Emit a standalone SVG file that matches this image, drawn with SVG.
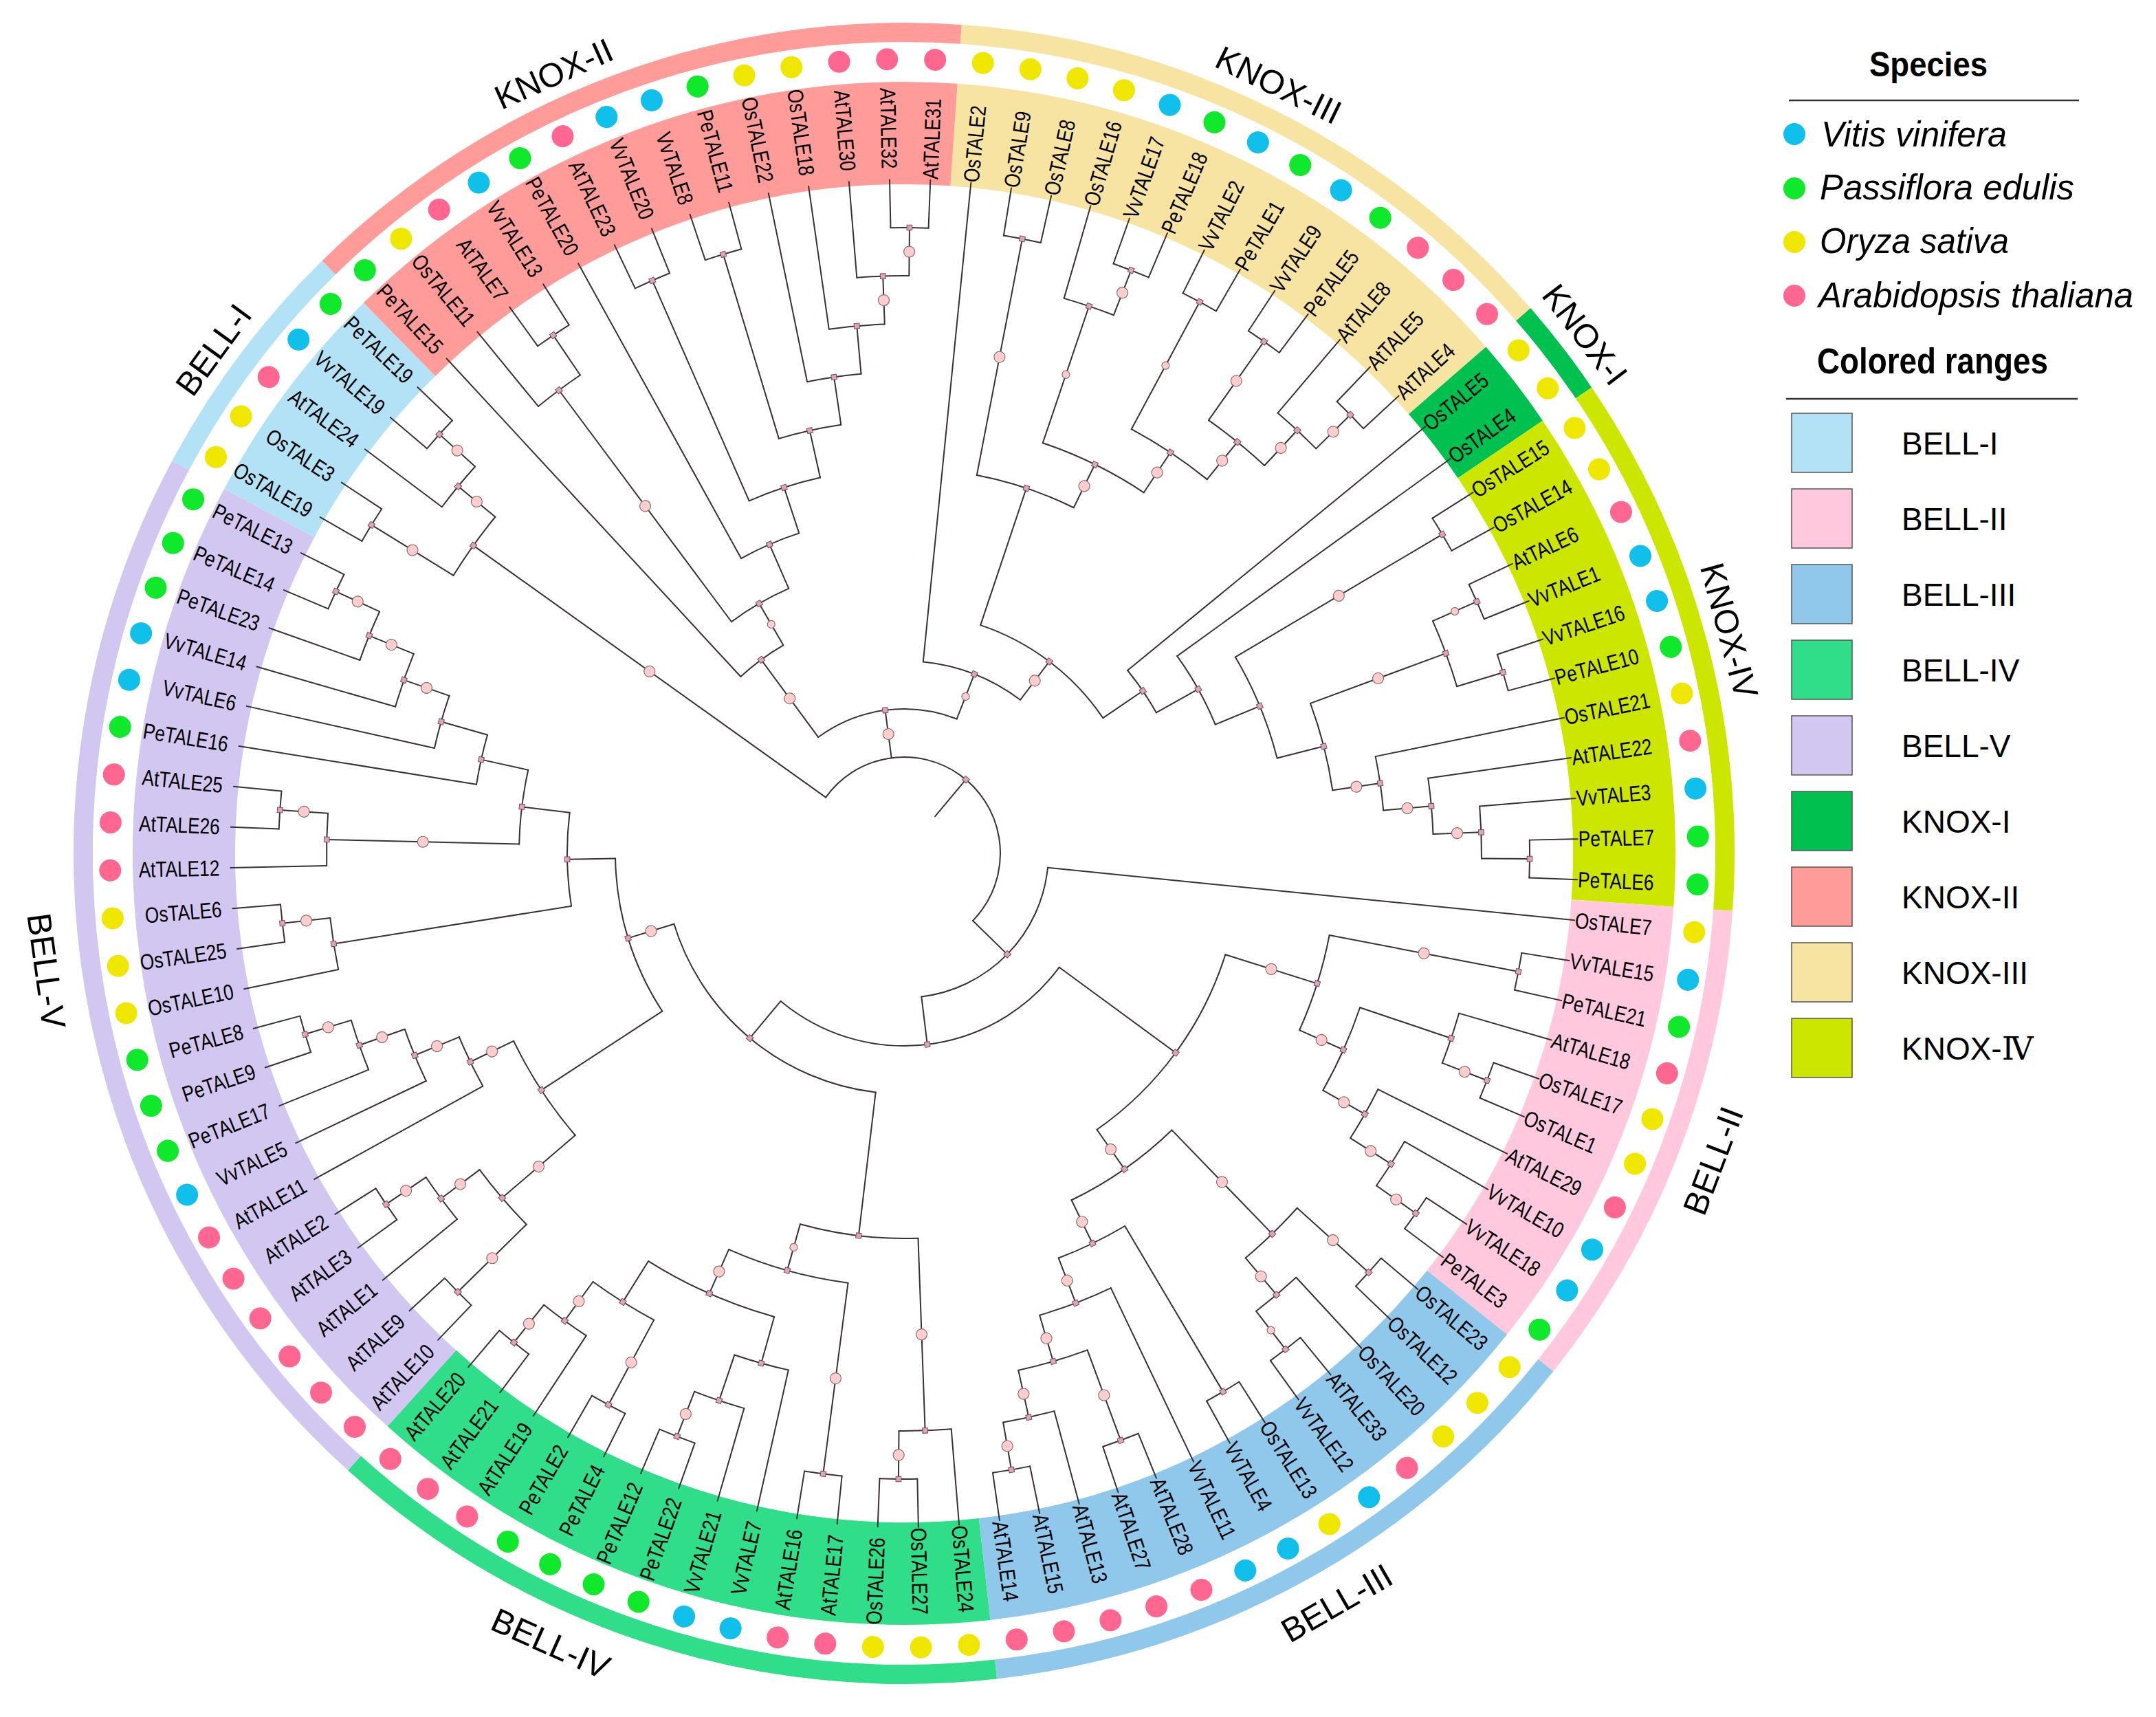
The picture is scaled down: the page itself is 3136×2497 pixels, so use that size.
<svg xmlns="http://www.w3.org/2000/svg" width="3136" height="2497" viewBox="0 0 3136 2497">
<style>
text{font-family:"Liberation Sans",Arial,Helvetica,sans-serif;fill:#000}
.r{font-size:32px;transform:translate(981px,11px) scale(.82,1)}
.l{font-size:32px;text-anchor:end;transform:translate(-996px,11px) scale(.82,1)}
.cl{font-size:49px;text-anchor:middle}
.vv{fill:#10bfea}.pe{fill:#10e82c}.os{fill:#efe700}.at{fill:#ff6791}
.band{fill:none;stroke-width:149}
.ring{fill:none;stroke-width:28}
#tree path,#tree circle{fill:none;stroke:#3a3232;stroke-width:2;stroke-linecap:round}
.lg{font-size:46px}
.sp{font-style:italic;font-size:52px}
</style>
<defs>
<rect id="sq" x="-3.8" y="-3.8" width="7.6" height="7.6" fill="#e3a1bd" stroke="#6b525d" stroke-width="1"/>
<circle id="bb" r="8" fill="#ffcdcd" stroke="#8c6e6e" stroke-width="1.2"/>
<circle id="bm" r="5.5" fill="#ffcdcd" stroke="#8c6e6e" stroke-width="1.2"/>
</defs>
<rect width="3136" height="2497" fill="#fff"/>
<g transform="translate(1315 1241)">
<g id="clade-KNOX-III"><circle class="band" r="1047.5" pathLength="360" stroke-dasharray="45 360" transform="rotate(-86.03)" stroke="#f8e4a2"/><circle class="ring" r="1194" pathLength="360" stroke-dasharray="45 360" transform="rotate(-86.03)" stroke="#f8e4a2"/><text class="cl" transform="rotate(-64) translate(1226 0) rotate(90)">KNOX-III</text></g>
<g id="clade-KNOX-I"><circle class="band" r="1047.5" pathLength="360" stroke-dasharray="6.92 360" transform="rotate(-41.03)" stroke="#00c050"/><circle class="ring" r="1194" pathLength="360" stroke-dasharray="6.92 360" transform="rotate(-41.03)" stroke="#00c050"/><text class="cl" transform="rotate(-37.3) translate(1228 0) rotate(90)">KNOX-I</text></g>
<g id="clade-KNOX-IV"><circle class="band" r="1047.5" pathLength="360" stroke-dasharray="38.08 360" transform="rotate(-34.11)" stroke="#cce600"/><circle class="ring" r="1194" pathLength="360" stroke-dasharray="38.08 360" transform="rotate(-34.11)" stroke="#cce600"/><text class="cl" transform="rotate(-15.1) translate(1226 0) rotate(90)">KNOX-IV</text></g>
<g id="clade-BELL-II"><circle class="band" r="1047.5" pathLength="360" stroke-dasharray="34.62 360" transform="rotate(3.97)" stroke="#ffc8dd"/><circle class="ring" r="1194" pathLength="360" stroke-dasharray="34.62 360" transform="rotate(3.97)" stroke="#ffc8dd"/><text class="cl" transform="rotate(20.8) translate(1276 0) rotate(-90)">BELL-II</text></g>
<g id="clade-BELL-III"><circle class="band" r="1047.5" pathLength="360" stroke-dasharray="45 360" transform="rotate(38.58)" stroke="#8fc8eb"/><circle class="ring" r="1194" pathLength="360" stroke-dasharray="45 360" transform="rotate(38.58)" stroke="#8fc8eb"/><text class="cl" transform="rotate(60) translate(1276 0) rotate(-90)">BELL-III</text></g>
<g id="clade-BELL-IV"><circle class="band" r="1047.5" pathLength="360" stroke-dasharray="48.46 360" transform="rotate(83.58)" stroke="#30dd88"/><circle class="ring" r="1194" pathLength="360" stroke-dasharray="48.46 360" transform="rotate(83.58)" stroke="#30dd88"/><text class="cl" transform="rotate(114.1) translate(1276 0) rotate(-90)">BELL-IV</text></g>
<g id="clade-BELL-V"><circle class="band" r="1047.5" pathLength="360" stroke-dasharray="76.16 360" transform="rotate(132.04)" stroke="#d2c7f1"/><circle class="ring" r="1194" pathLength="360" stroke-dasharray="76.16 360" transform="rotate(132.04)" stroke="#d2c7f1"/><text class="cl" transform="rotate(172.2) translate(1276 0) rotate(-90)">BELL-V</text></g>
<g id="clade-BELL-I"><circle class="band" r="1047.5" pathLength="360" stroke-dasharray="17.31 360" transform="rotate(208.2)" stroke="#b3e2f6"/><circle class="ring" r="1194" pathLength="360" stroke-dasharray="17.31 360" transform="rotate(208.2)" stroke="#b3e2f6"/><text class="cl" transform="rotate(-143.9) translate(1226 0) rotate(90)">BELL-I</text></g>
<g id="clade-KNOX-II"><circle class="band" r="1047.5" pathLength="360" stroke-dasharray="48.46 360" transform="rotate(225.51)" stroke="#ff9c9a"/><circle class="ring" r="1194" pathLength="360" stroke-dasharray="48.46 360" transform="rotate(225.51)" stroke="#ff9c9a"/><text class="cl" transform="rotate(-114.2) translate(1226 0) rotate(90)">KNOX-II</text></g>

<g id="tree">
<path d="M70 0H140" transform="rotate(-50.03)"/>
<circle r="140" pathLength="360" stroke-dasharray="188.83 360" transform="rotate(-144.45)"/>
<path d="M140 0H770" transform="rotate(-144.45)"/>
<circle r="770" pathLength="360" stroke-dasharray="7.79 360" transform="rotate(-148.34)"/>
<path d="M770 0H910" transform="rotate(-148.34)"/>
<circle r="910" pathLength="360" stroke-dasharray="3.46 360" transform="rotate(-150.07)"/>
<path d="M910 0H980" transform="rotate(-150.07)"/>
<path d="M910 0H980" transform="rotate(-146.61)"/>
<path d="M770 0H840" transform="rotate(-140.55)"/>
<circle r="840" pathLength="360" stroke-dasharray="5.19 360" transform="rotate(-143.15)"/>
<path d="M840 0H980" transform="rotate(-143.15)"/>
<path d="M840 0H910" transform="rotate(-137.96)"/>
<circle r="910" pathLength="360" stroke-dasharray="3.46 360" transform="rotate(-139.69)"/>
<path d="M910 0H980" transform="rotate(-139.69)"/>
<path d="M910 0H980" transform="rotate(-136.23)"/>
<path d="M140 0H210" transform="rotate(-97.51)"/>
<circle r="210" pathLength="360" stroke-dasharray="57.86 360" transform="rotate(-126.44)"/>
<path d="M210 0H350" transform="rotate(-126.44)"/>
<circle r="350" pathLength="360" stroke-dasharray="12.64 360" transform="rotate(-132.76)"/>
<path d="M350 0H980" transform="rotate(-132.76)"/>
<path d="M350 0H420" transform="rotate(-120.12)"/>
<circle r="420" pathLength="360" stroke-dasharray="13.16 360" transform="rotate(-126.7)"/>
<path d="M420 0H840" transform="rotate(-126.7)"/>
<circle r="840" pathLength="360" stroke-dasharray="5.19 360" transform="rotate(-129.3)"/>
<path d="M840 0H980" transform="rotate(-129.3)"/>
<path d="M840 0H910" transform="rotate(-124.11)"/>
<circle r="910" pathLength="360" stroke-dasharray="3.46 360" transform="rotate(-125.84)"/>
<path d="M910 0H980" transform="rotate(-125.84)"/>
<path d="M910 0H980" transform="rotate(-122.38)"/>
<path d="M420 0H490" transform="rotate(-113.54)"/>
<circle r="490" pathLength="360" stroke-dasharray="10.76 360" transform="rotate(-118.92)"/>
<path d="M490 0H980" transform="rotate(-118.92)"/>
<path d="M490 0H560" transform="rotate(-108.16)"/>
<circle r="560" pathLength="360" stroke-dasharray="11.15 360" transform="rotate(-113.73)"/>
<path d="M560 0H910" transform="rotate(-113.73)"/>
<circle r="910" pathLength="360" stroke-dasharray="3.46 360" transform="rotate(-115.46)"/>
<path d="M910 0H980" transform="rotate(-115.46)"/>
<path d="M910 0H980" transform="rotate(-112)"/>
<path d="M560 0H630" transform="rotate(-102.58)"/>
<circle r="630" pathLength="360" stroke-dasharray="8.43 360" transform="rotate(-106.8)"/>
<path d="M630 0H910" transform="rotate(-106.8)"/>
<circle r="910" pathLength="360" stroke-dasharray="3.46 360" transform="rotate(-108.53)"/>
<path d="M910 0H980" transform="rotate(-108.53)"/>
<path d="M910 0H980" transform="rotate(-105.07)"/>
<path d="M630 0H700" transform="rotate(-98.37)"/>
<circle r="700" pathLength="360" stroke-dasharray="6.49 360" transform="rotate(-101.61)"/>
<path d="M700 0H980" transform="rotate(-101.61)"/>
<path d="M700 0H770" transform="rotate(-95.12)"/>
<circle r="770" pathLength="360" stroke-dasharray="6.05 360" transform="rotate(-98.15)"/>
<path d="M770 0H980" transform="rotate(-98.15)"/>
<path d="M770 0H840" transform="rotate(-92.1)"/>
<circle r="840" pathLength="360" stroke-dasharray="5.19 360" transform="rotate(-94.69)"/>
<path d="M840 0H980" transform="rotate(-94.69)"/>
<path d="M840 0H910" transform="rotate(-89.5)"/>
<circle r="910" pathLength="360" stroke-dasharray="3.47 360" transform="rotate(-91.23)"/>
<path d="M910 0H980" transform="rotate(-91.23)"/>
<path d="M910 0H980" transform="rotate(-87.76)"/>
<path d="M210 0H280" transform="rotate(-68.58)"/>
<circle r="280" pathLength="360" stroke-dasharray="31.44 360" transform="rotate(-84.3)"/>
<path d="M280 0H980" transform="rotate(-84.3)"/>
<path d="M280 0H350" transform="rotate(-52.86)"/>
<circle r="350" pathLength="360" stroke-dasharray="37.25 360" transform="rotate(-71.48)"/>
<path d="M350 0H560" transform="rotate(-71.48)"/>
<circle r="560" pathLength="360" stroke-dasharray="15.25 360" transform="rotate(-79.11)"/>
<path d="M560 0H910" transform="rotate(-79.11)"/>
<circle r="910" pathLength="360" stroke-dasharray="3.46 360" transform="rotate(-80.84)"/>
<path d="M910 0H980" transform="rotate(-80.84)"/>
<path d="M910 0H980" transform="rotate(-77.38)"/>
<path d="M560 0H630" transform="rotate(-63.86)"/>
<circle r="630" pathLength="360" stroke-dasharray="14.93 360" transform="rotate(-71.32)"/>
<path d="M630 0H840" transform="rotate(-71.32)"/>
<circle r="840" pathLength="360" stroke-dasharray="5.2 360" transform="rotate(-73.92)"/>
<path d="M840 0H980" transform="rotate(-73.92)"/>
<path d="M840 0H910" transform="rotate(-68.72)"/>
<circle r="910" pathLength="360" stroke-dasharray="3.46 360" transform="rotate(-70.45)"/>
<path d="M910 0H980" transform="rotate(-70.45)"/>
<path d="M910 0H980" transform="rotate(-66.99)"/>
<path d="M630 0H700" transform="rotate(-56.39)"/>
<circle r="700" pathLength="360" stroke-dasharray="10.82 360" transform="rotate(-61.8)"/>
<path d="M700 0H910" transform="rotate(-61.8)"/>
<circle r="910" pathLength="360" stroke-dasharray="3.46 360" transform="rotate(-63.53)"/>
<path d="M910 0H980" transform="rotate(-63.53)"/>
<path d="M910 0H980" transform="rotate(-60.07)"/>
<path d="M700 0H770" transform="rotate(-50.98)"/>
<circle r="770" pathLength="360" stroke-dasharray="7.79 360" transform="rotate(-54.88)"/>
<path d="M770 0H910" transform="rotate(-54.88)"/>
<circle r="910" pathLength="360" stroke-dasharray="3.46 360" transform="rotate(-56.61)"/>
<path d="M910 0H980" transform="rotate(-56.61)"/>
<path d="M910 0H980" transform="rotate(-53.15)"/>
<path d="M770 0H840" transform="rotate(-47.09)"/>
<circle r="840" pathLength="360" stroke-dasharray="5.19 360" transform="rotate(-49.68)"/>
<path d="M840 0H980" transform="rotate(-49.68)"/>
<path d="M840 0H910" transform="rotate(-44.49)"/>
<circle r="910" pathLength="360" stroke-dasharray="3.46 360" transform="rotate(-46.22)"/>
<path d="M910 0H980" transform="rotate(-46.22)"/>
<path d="M910 0H980" transform="rotate(-42.76)"/>
<path d="M350 0H420" transform="rotate(-34.23)"/>
<circle r="420" pathLength="360" stroke-dasharray="10.14 360" transform="rotate(-39.3)"/>
<path d="M420 0H980" transform="rotate(-39.3)"/>
<path d="M420 0H490" transform="rotate(-29.16)"/>
<circle r="490" pathLength="360" stroke-dasharray="13.36 360" transform="rotate(-35.84)"/>
<path d="M490 0H980" transform="rotate(-35.84)"/>
<path d="M490 0H560" transform="rotate(-22.48)"/>
<circle r="560" pathLength="360" stroke-dasharray="16.34 360" transform="rotate(-30.65)"/>
<path d="M560 0H910" transform="rotate(-30.65)"/>
<circle r="910" pathLength="360" stroke-dasharray="3.46 360" transform="rotate(-32.38)"/>
<path d="M910 0H980" transform="rotate(-32.38)"/>
<path d="M910 0H980" transform="rotate(-28.92)"/>
<path d="M560 0H630" transform="rotate(-14.31)"/>
<circle r="630" pathLength="360" stroke-dasharray="11.89 360" transform="rotate(-20.26)"/>
<path d="M630 0H840" transform="rotate(-20.26)"/>
<circle r="840" pathLength="360" stroke-dasharray="6.92 360" transform="rotate(-23.72)"/>
<path d="M840 0H910" transform="rotate(-23.72)"/>
<circle r="910" pathLength="360" stroke-dasharray="3.46 360" transform="rotate(-25.45)"/>
<path d="M910 0H980" transform="rotate(-25.45)"/>
<path d="M910 0H980" transform="rotate(-21.99)"/>
<path d="M840 0H910" transform="rotate(-16.8)"/>
<circle r="910" pathLength="360" stroke-dasharray="3.46 360" transform="rotate(-18.53)"/>
<path d="M910 0H980" transform="rotate(-18.53)"/>
<path d="M910 0H980" transform="rotate(-15.07)"/>
<path d="M630 0H700" transform="rotate(-8.37)"/>
<circle r="700" pathLength="360" stroke-dasharray="6.49 360" transform="rotate(-11.61)"/>
<path d="M700 0H980" transform="rotate(-11.61)"/>
<path d="M700 0H770" transform="rotate(-5.12)"/>
<circle r="770" pathLength="360" stroke-dasharray="6.06 360" transform="rotate(-8.15)"/>
<path d="M770 0H980" transform="rotate(-8.15)"/>
<path d="M770 0H840" transform="rotate(-2.09)"/>
<circle r="840" pathLength="360" stroke-dasharray="5.19 360" transform="rotate(-4.68)"/>
<path d="M840 0H980" transform="rotate(-4.68)"/>
<path d="M840 0H910" transform="rotate(0.51)"/>
<circle r="910" pathLength="360" stroke-dasharray="3.46 360" transform="rotate(-1.22)"/>
<path d="M910 0H980" transform="rotate(-1.22)"/>
<path d="M910 0H980" transform="rotate(2.24)"/>
<path d="M140 0H210" transform="rotate(44.38)"/>
<circle r="210" pathLength="360" stroke-dasharray="77.37 360" transform="rotate(5.7)"/>
<path d="M210 0H980" transform="rotate(5.7)"/>
<path d="M210 0H280" transform="rotate(83.07)"/>
<circle r="280" pathLength="360" stroke-dasharray="93.57 360" transform="rotate(36.28)"/>
<path d="M280 0H490" transform="rotate(36.28)"/>
<circle r="490" pathLength="360" stroke-dasharray="37.59 360" transform="rotate(17.49)"/>
<path d="M490 0H630" transform="rotate(17.49)"/>
<circle r="630" pathLength="360" stroke-dasharray="13.2 360" transform="rotate(10.89)"/>
<path d="M630 0H910" transform="rotate(10.89)"/>
<circle r="910" pathLength="360" stroke-dasharray="3.46 360" transform="rotate(9.16)"/>
<path d="M910 0H980" transform="rotate(9.16)"/>
<path d="M910 0H980" transform="rotate(12.62)"/>
<path d="M630 0H700" transform="rotate(24.09)"/>
<circle r="700" pathLength="360" stroke-dasharray="10.82 360" transform="rotate(18.68)"/>
<path d="M700 0H840" transform="rotate(18.68)"/>
<circle r="840" pathLength="360" stroke-dasharray="5.2 360" transform="rotate(16.08)"/>
<path d="M840 0H980" transform="rotate(16.08)"/>
<path d="M840 0H910" transform="rotate(21.28)"/>
<circle r="910" pathLength="360" stroke-dasharray="3.46 360" transform="rotate(19.55)"/>
<path d="M910 0H980" transform="rotate(19.55)"/>
<path d="M910 0H980" transform="rotate(23.01)"/>
<path d="M700 0H770" transform="rotate(29.5)"/>
<circle r="770" pathLength="360" stroke-dasharray="6.06 360" transform="rotate(26.47)"/>
<path d="M770 0H980" transform="rotate(26.47)"/>
<path d="M770 0H840" transform="rotate(32.53)"/>
<circle r="840" pathLength="360" stroke-dasharray="5.19 360" transform="rotate(29.93)"/>
<path d="M840 0H980" transform="rotate(29.93)"/>
<path d="M840 0H910" transform="rotate(35.12)"/>
<circle r="910" pathLength="360" stroke-dasharray="3.46 360" transform="rotate(33.39)"/>
<path d="M910 0H980" transform="rotate(33.39)"/>
<path d="M910 0H980" transform="rotate(36.85)"/>
<path d="M490 0H560" transform="rotate(55.08)"/>
<circle r="560" pathLength="360" stroke-dasharray="18.28 360" transform="rotate(45.94)"/>
<path d="M560 0H770" transform="rotate(45.94)"/>
<circle r="770" pathLength="360" stroke-dasharray="7.79 360" transform="rotate(42.05)"/>
<path d="M770 0H910" transform="rotate(42.05)"/>
<circle r="910" pathLength="360" stroke-dasharray="3.47 360" transform="rotate(40.31)"/>
<path d="M910 0H980" transform="rotate(40.31)"/>
<path d="M910 0H980" transform="rotate(43.78)"/>
<path d="M770 0H840" transform="rotate(49.84)"/>
<circle r="840" pathLength="360" stroke-dasharray="5.19 360" transform="rotate(47.24)"/>
<path d="M840 0H980" transform="rotate(47.24)"/>
<path d="M840 0H910" transform="rotate(52.43)"/>
<circle r="910" pathLength="360" stroke-dasharray="3.46 360" transform="rotate(50.7)"/>
<path d="M910 0H980" transform="rotate(50.7)"/>
<path d="M910 0H980" transform="rotate(54.16)"/>
<path d="M560 0H630" transform="rotate(64.22)"/>
<circle r="630" pathLength="360" stroke-dasharray="9.75 360" transform="rotate(59.35)"/>
<path d="M630 0H910" transform="rotate(59.35)"/>
<circle r="910" pathLength="360" stroke-dasharray="3.46 360" transform="rotate(57.62)"/>
<path d="M910 0H980" transform="rotate(57.62)"/>
<path d="M910 0H980" transform="rotate(61.08)"/>
<path d="M630 0H700" transform="rotate(69.1)"/>
<circle r="700" pathLength="360" stroke-dasharray="9.09 360" transform="rotate(64.55)"/>
<path d="M700 0H980" transform="rotate(64.55)"/>
<path d="M700 0H770" transform="rotate(73.64)"/>
<circle r="770" pathLength="360" stroke-dasharray="7.79 360" transform="rotate(69.74)"/>
<path d="M770 0H910" transform="rotate(69.74)"/>
<circle r="910" pathLength="360" stroke-dasharray="3.46 360" transform="rotate(68.01)"/>
<path d="M910 0H980" transform="rotate(68.01)"/>
<path d="M910 0H980" transform="rotate(71.47)"/>
<path d="M770 0H840" transform="rotate(77.53)"/>
<circle r="840" pathLength="360" stroke-dasharray="5.19 360" transform="rotate(74.93)"/>
<path d="M840 0H980" transform="rotate(74.93)"/>
<path d="M840 0H910" transform="rotate(80.12)"/>
<circle r="910" pathLength="360" stroke-dasharray="3.46 360" transform="rotate(78.39)"/>
<path d="M910 0H980" transform="rotate(78.39)"/>
<path d="M910 0H980" transform="rotate(81.85)"/>
<path d="M280 0H350" transform="rotate(129.85)"/>
<circle r="350" pathLength="360" stroke-dasharray="66.14 360" transform="rotate(96.78)"/>
<path d="M350 0H560" transform="rotate(96.78)"/>
<circle r="560" pathLength="360" stroke-dasharray="17.74 360" transform="rotate(87.91)"/>
<path d="M560 0H840" transform="rotate(87.91)"/>
<circle r="840" pathLength="360" stroke-dasharray="5.2 360" transform="rotate(85.31)"/>
<path d="M840 0H980" transform="rotate(85.31)"/>
<path d="M840 0H910" transform="rotate(90.51)"/>
<circle r="910" pathLength="360" stroke-dasharray="3.46 360" transform="rotate(88.78)"/>
<path d="M910 0H980" transform="rotate(88.78)"/>
<path d="M910 0H980" transform="rotate(92.24)"/>
<path d="M560 0H630" transform="rotate(105.65)"/>
<circle r="630" pathLength="360" stroke-dasharray="16.44 360" transform="rotate(97.43)"/>
<path d="M630 0H910" transform="rotate(97.43)"/>
<circle r="910" pathLength="360" stroke-dasharray="3.46 360" transform="rotate(95.7)"/>
<path d="M910 0H980" transform="rotate(95.7)"/>
<path d="M910 0H980" transform="rotate(99.16)"/>
<path d="M630 0H700" transform="rotate(113.87)"/>
<circle r="700" pathLength="360" stroke-dasharray="16.44 360" transform="rotate(105.65)"/>
<path d="M700 0H770" transform="rotate(105.65)"/>
<circle r="770" pathLength="360" stroke-dasharray="6.06 360" transform="rotate(102.62)"/>
<path d="M770 0H980" transform="rotate(102.62)"/>
<path d="M770 0H840" transform="rotate(108.68)"/>
<circle r="840" pathLength="360" stroke-dasharray="5.2 360" transform="rotate(106.08)"/>
<path d="M840 0H980" transform="rotate(106.08)"/>
<path d="M840 0H910" transform="rotate(111.28)"/>
<circle r="910" pathLength="360" stroke-dasharray="3.47 360" transform="rotate(109.54)"/>
<path d="M910 0H980" transform="rotate(109.54)"/>
<path d="M910 0H980" transform="rotate(113.01)"/>
<path d="M700 0H770" transform="rotate(122.09)"/>
<circle r="770" pathLength="360" stroke-dasharray="7.79 360" transform="rotate(118.2)"/>
<path d="M770 0H910" transform="rotate(118.2)"/>
<circle r="910" pathLength="360" stroke-dasharray="3.46 360" transform="rotate(116.47)"/>
<path d="M910 0H980" transform="rotate(116.47)"/>
<path d="M910 0H980" transform="rotate(119.93)"/>
<path d="M770 0H840" transform="rotate(125.99)"/>
<circle r="840" pathLength="360" stroke-dasharray="5.19 360" transform="rotate(123.39)"/>
<path d="M840 0H980" transform="rotate(123.39)"/>
<path d="M840 0H910" transform="rotate(128.58)"/>
<circle r="910" pathLength="360" stroke-dasharray="3.46 360" transform="rotate(126.85)"/>
<path d="M910 0H980" transform="rotate(126.85)"/>
<path d="M910 0H980" transform="rotate(130.31)"/>
<path d="M350 0H420" transform="rotate(162.92)"/>
<circle r="420" pathLength="360" stroke-dasharray="32.1 360" transform="rotate(146.87)"/>
<path d="M420 0H630" transform="rotate(146.87)"/>
<circle r="630" pathLength="360" stroke-dasharray="14.93 360" transform="rotate(139.4)"/>
<path d="M630 0H770" transform="rotate(139.4)"/>
<circle r="770" pathLength="360" stroke-dasharray="7.8 360" transform="rotate(135.5)"/>
<path d="M770 0H910" transform="rotate(135.5)"/>
<circle r="910" pathLength="360" stroke-dasharray="3.47 360" transform="rotate(133.77)"/>
<path d="M910 0H980" transform="rotate(133.77)"/>
<path d="M910 0H980" transform="rotate(137.24)"/>
<path d="M770 0H840" transform="rotate(143.3)"/>
<circle r="840" pathLength="360" stroke-dasharray="5.19 360" transform="rotate(140.7)"/>
<path d="M840 0H980" transform="rotate(140.7)"/>
<path d="M840 0H910" transform="rotate(145.89)"/>
<circle r="910" pathLength="360" stroke-dasharray="3.46 360" transform="rotate(144.16)"/>
<path d="M910 0H980" transform="rotate(144.16)"/>
<path d="M910 0H980" transform="rotate(147.62)"/>
<path d="M630 0H700" transform="rotate(154.33)"/>
<circle r="700" pathLength="360" stroke-dasharray="6.49 360" transform="rotate(151.08)"/>
<path d="M700 0H980" transform="rotate(151.08)"/>
<path d="M700 0H770" transform="rotate(157.57)"/>
<circle r="770" pathLength="360" stroke-dasharray="6.06 360" transform="rotate(154.54)"/>
<path d="M770 0H980" transform="rotate(154.54)"/>
<path d="M770 0H840" transform="rotate(160.6)"/>
<circle r="840" pathLength="360" stroke-dasharray="5.2 360" transform="rotate(158)"/>
<path d="M840 0H980" transform="rotate(158)"/>
<path d="M840 0H910" transform="rotate(163.2)"/>
<circle r="910" pathLength="360" stroke-dasharray="3.46 360" transform="rotate(161.47)"/>
<path d="M910 0H980" transform="rotate(161.47)"/>
<path d="M910 0H980" transform="rotate(164.93)"/>
<path d="M420 0H490" transform="rotate(178.97)"/>
<circle r="490" pathLength="360" stroke-dasharray="15.95 360" transform="rotate(170.99)"/>
<path d="M490 0H840" transform="rotate(170.99)"/>
<circle r="840" pathLength="360" stroke-dasharray="5.19 360" transform="rotate(168.39)"/>
<path d="M840 0H980" transform="rotate(168.39)"/>
<path d="M840 0H910" transform="rotate(173.58)"/>
<circle r="910" pathLength="360" stroke-dasharray="3.46 360" transform="rotate(171.85)"/>
<path d="M910 0H980" transform="rotate(171.85)"/>
<path d="M910 0H980" transform="rotate(175.31)"/>
<path d="M490 0H560" transform="rotate(186.94)"/>
<circle r="560" pathLength="360" stroke-dasharray="11.13 360" transform="rotate(181.37)"/>
<path d="M560 0H840" transform="rotate(181.37)"/>
<circle r="840" pathLength="360" stroke-dasharray="5.2 360" transform="rotate(178.77)"/>
<path d="M840 0H980" transform="rotate(178.77)"/>
<path d="M840 0H910" transform="rotate(183.97)"/>
<circle r="910" pathLength="360" stroke-dasharray="3.47 360" transform="rotate(182.23)"/>
<path d="M910 0H980" transform="rotate(182.23)"/>
<path d="M910 0H980" transform="rotate(185.7)"/>
<path d="M560 0H630" transform="rotate(192.5)"/>
<circle r="630" pathLength="360" stroke-dasharray="6.71 360" transform="rotate(189.16)"/>
<path d="M630 0H980" transform="rotate(189.16)"/>
<path d="M630 0H700" transform="rotate(195.87)"/>
<circle r="700" pathLength="360" stroke-dasharray="6.49 360" transform="rotate(192.62)"/>
<path d="M700 0H980" transform="rotate(192.62)"/>
<path d="M700 0H770" transform="rotate(199.11)"/>
<circle r="770" pathLength="360" stroke-dasharray="6.06 360" transform="rotate(196.08)"/>
<path d="M770 0H980" transform="rotate(196.08)"/>
<path d="M770 0H840" transform="rotate(202.14)"/>
<circle r="840" pathLength="360" stroke-dasharray="5.2 360" transform="rotate(199.54)"/>
<path d="M840 0H980" transform="rotate(199.54)"/>
<path d="M840 0H910" transform="rotate(204.74)"/>
<circle r="910" pathLength="360" stroke-dasharray="3.47 360" transform="rotate(203)"/>
<path d="M910 0H980" transform="rotate(203)"/>
<path d="M910 0H980" transform="rotate(206.47)"/>
</g>

<g id="support">
<use href="#bb" transform="rotate(-97.51) translate(175 0)"/>
<use href="#bb" transform="rotate(-126.44) translate(280 0)"/>
<use href="#bm" transform="rotate(-120.12) translate(385 0)"/>
<use href="#bb" transform="rotate(-126.7) translate(630 0)"/>
<use href="#bb" transform="rotate(-144.45) translate(455 0)"/>
<use href="#bb" transform="rotate(-148.34) translate(840 0)"/>
<use href="#bb" transform="rotate(-140.55) translate(805 0)"/>
<use href="#bb" transform="rotate(-137.96) translate(875 0)"/>
<use href="#bb" transform="rotate(-92.1) translate(805 0)"/>
<use href="#bb" transform="rotate(-89.5) translate(875 0)"/>
<use href="#bm" transform="rotate(-68.58) translate(245 0)"/>
<use href="#bb" transform="rotate(-52.86) translate(315 0)"/>
<use href="#bb" transform="rotate(-79.11) translate(735 0)"/>
<use href="#bm" transform="rotate(-71.32) translate(735 0)"/>
<use href="#bb" transform="rotate(-63.86) translate(595 0)"/>
<use href="#bb" transform="rotate(-68.72) translate(875 0)"/>
<use href="#bm" transform="rotate(-61.8) translate(805 0)"/>
<use href="#bb" transform="rotate(-56.39) translate(665 0)"/>
<use href="#bb" transform="rotate(-50.98) translate(735 0)"/>
<use href="#bb" transform="rotate(-54.88) translate(840 0)"/>
<use href="#bb" transform="rotate(-47.09) translate(805 0)"/>
<use href="#bb" transform="rotate(-44.49) translate(875 0)"/>
<use href="#bb" transform="rotate(-30.65) translate(735 0)"/>
<use href="#bm" transform="rotate(-23.72) translate(875 0)"/>
<use href="#bb" transform="rotate(-20.26) translate(735 0)"/>
<use href="#bb" transform="rotate(-8.37) translate(665 0)"/>
<use href="#bb" transform="rotate(-5.12) translate(735 0)"/>
<use href="#bb" transform="rotate(-2.09) translate(805 0)"/>
<use href="#bb" transform="rotate(204.74) translate(875 0)"/>
<use href="#bb" transform="rotate(202.14) translate(805 0)"/>
<use href="#bb" transform="rotate(199.11) translate(735 0)"/>
<use href="#bb" transform="rotate(183.97) translate(875 0)"/>
<use href="#bb" transform="rotate(181.37) translate(700 0)"/>
<use href="#bb" transform="rotate(173.58) translate(875 0)"/>
<use href="#bb" transform="rotate(162.92) translate(385 0)"/>
<use href="#bb" transform="rotate(163.2) translate(875 0)"/>
<use href="#bb" transform="rotate(160.6) translate(805 0)"/>
<use href="#bb" transform="rotate(157.57) translate(735 0)"/>
<use href="#bb" transform="rotate(154.33) translate(665 0)"/>
<use href="#bb" transform="rotate(139.4) translate(700 0)"/>
<use href="#bb" transform="rotate(143.3) translate(805 0)"/>
<use href="#bb" transform="rotate(145.89) translate(875 0)"/>
<use href="#bb" transform="rotate(135.5) translate(840 0)"/>
<use href="#bb" transform="rotate(113.87) translate(665 0)"/>
<use href="#bm" transform="rotate(105.65) translate(595 0)"/>
<use href="#bb" transform="rotate(118.2) translate(840 0)"/>
<use href="#bb" transform="rotate(125.99) translate(805 0)"/>
<use href="#bb" transform="rotate(128.58) translate(875 0)"/>
<use href="#bb" transform="rotate(111.28) translate(875 0)"/>
<use href="#bb" transform="rotate(97.43) translate(770 0)"/>
<use href="#bb" transform="rotate(90.51) translate(875 0)"/>
<use href="#bb" transform="rotate(87.91) translate(700 0)"/>
<use href="#bb" transform="rotate(17.49) translate(560 0)"/>
<use href="#bb" transform="rotate(10.89) translate(770 0)"/>
<use href="#bb" transform="rotate(24.09) translate(665 0)"/>
<use href="#bb" transform="rotate(29.5) translate(735 0)"/>
<use href="#bb" transform="rotate(21.28) translate(875 0)"/>
<use href="#bb" transform="rotate(32.53) translate(805 0)"/>
<use href="#bb" transform="rotate(35.12) translate(875 0)"/>
<use href="#bb" transform="rotate(55.08) translate(525 0)"/>
<use href="#bb" transform="rotate(45.94) translate(665 0)"/>
<use href="#bb" transform="rotate(42.05) translate(840 0)"/>
<use href="#bb" transform="rotate(49.84) translate(805 0)"/>
<use href="#bm" transform="rotate(52.43) translate(875 0)"/>
<use href="#bb" transform="rotate(64.22) translate(595 0)"/>
<use href="#bb" transform="rotate(69.1) translate(665 0)"/>
<use href="#bb" transform="rotate(73.64) translate(735 0)"/>
<use href="#bb" transform="rotate(69.74) translate(840 0)"/>
<use href="#bb" transform="rotate(77.53) translate(805 0)"/>
<use href="#bb" transform="rotate(80.12) translate(875 0)"/>
</g>

<g id="nodes">
<use href="#sq" transform="rotate(-50.03) translate(140 0)"/>
<use href="#sq" transform="rotate(-144.45) translate(770 0)"/>
<use href="#sq" transform="rotate(-148.34) translate(910 0)"/>
<use href="#sq" transform="rotate(-140.55) translate(840 0)"/>
<use href="#sq" transform="rotate(-137.96) translate(910 0)"/>
<use href="#sq" transform="rotate(-97.51) translate(210 0)"/>
<use href="#sq" transform="rotate(-126.44) translate(350 0)"/>
<use href="#sq" transform="rotate(-120.12) translate(420 0)"/>
<use href="#sq" transform="rotate(-126.7) translate(840 0)"/>
<use href="#sq" transform="rotate(-124.11) translate(910 0)"/>
<use href="#sq" transform="rotate(-113.54) translate(490 0)"/>
<use href="#sq" transform="rotate(-108.16) translate(560 0)"/>
<use href="#sq" transform="rotate(-113.73) translate(910 0)"/>
<use href="#sq" transform="rotate(-102.58) translate(630 0)"/>
<use href="#sq" transform="rotate(-106.8) translate(910 0)"/>
<use href="#sq" transform="rotate(-98.37) translate(700 0)"/>
<use href="#sq" transform="rotate(-95.12) translate(770 0)"/>
<use href="#sq" transform="rotate(-92.1) translate(840 0)"/>
<use href="#sq" transform="rotate(-89.5) translate(910 0)"/>
<use href="#sq" transform="rotate(-68.58) translate(280 0)"/>
<use href="#sq" transform="rotate(-52.86) translate(350 0)"/>
<use href="#sq" transform="rotate(-71.48) translate(560 0)"/>
<use href="#sq" transform="rotate(-79.11) translate(910 0)"/>
<use href="#sq" transform="rotate(-63.86) translate(630 0)"/>
<use href="#sq" transform="rotate(-71.32) translate(840 0)"/>
<use href="#sq" transform="rotate(-68.72) translate(910 0)"/>
<use href="#sq" transform="rotate(-56.39) translate(700 0)"/>
<use href="#sq" transform="rotate(-61.8) translate(910 0)"/>
<use href="#sq" transform="rotate(-50.98) translate(770 0)"/>
<use href="#sq" transform="rotate(-54.88) translate(910 0)"/>
<use href="#sq" transform="rotate(-47.09) translate(840 0)"/>
<use href="#sq" transform="rotate(-44.49) translate(910 0)"/>
<use href="#sq" transform="rotate(-34.23) translate(420 0)"/>
<use href="#sq" transform="rotate(-29.16) translate(490 0)"/>
<use href="#sq" transform="rotate(-22.48) translate(560 0)"/>
<use href="#sq" transform="rotate(-30.65) translate(910 0)"/>
<use href="#sq" transform="rotate(-14.31) translate(630 0)"/>
<use href="#sq" transform="rotate(-20.26) translate(840 0)"/>
<use href="#sq" transform="rotate(-23.72) translate(910 0)"/>
<use href="#sq" transform="rotate(-16.8) translate(910 0)"/>
<use href="#sq" transform="rotate(-8.37) translate(700 0)"/>
<use href="#sq" transform="rotate(-5.12) translate(770 0)"/>
<use href="#sq" transform="rotate(-2.09) translate(840 0)"/>
<use href="#sq" transform="rotate(0.51) translate(910 0)"/>
<use href="#sq" transform="rotate(44.38) translate(210 0)"/>
<use href="#sq" transform="rotate(83.07) translate(280 0)"/>
<use href="#sq" transform="rotate(36.28) translate(490 0)"/>
<use href="#sq" transform="rotate(17.49) translate(630 0)"/>
<use href="#sq" transform="rotate(10.89) translate(910 0)"/>
<use href="#sq" transform="rotate(24.09) translate(700 0)"/>
<use href="#sq" transform="rotate(18.68) translate(840 0)"/>
<use href="#sq" transform="rotate(21.28) translate(910 0)"/>
<use href="#sq" transform="rotate(29.5) translate(770 0)"/>
<use href="#sq" transform="rotate(32.53) translate(840 0)"/>
<use href="#sq" transform="rotate(35.12) translate(910 0)"/>
<use href="#sq" transform="rotate(55.08) translate(560 0)"/>
<use href="#sq" transform="rotate(45.94) translate(770 0)"/>
<use href="#sq" transform="rotate(42.05) translate(910 0)"/>
<use href="#sq" transform="rotate(49.84) translate(840 0)"/>
<use href="#sq" transform="rotate(52.43) translate(910 0)"/>
<use href="#sq" transform="rotate(64.22) translate(630 0)"/>
<use href="#sq" transform="rotate(59.35) translate(910 0)"/>
<use href="#sq" transform="rotate(69.1) translate(700 0)"/>
<use href="#sq" transform="rotate(73.64) translate(770 0)"/>
<use href="#sq" transform="rotate(69.74) translate(910 0)"/>
<use href="#sq" transform="rotate(77.53) translate(840 0)"/>
<use href="#sq" transform="rotate(80.12) translate(910 0)"/>
<use href="#sq" transform="rotate(129.85) translate(350 0)"/>
<use href="#sq" transform="rotate(96.78) translate(560 0)"/>
<use href="#sq" transform="rotate(87.91) translate(840 0)"/>
<use href="#sq" transform="rotate(90.51) translate(910 0)"/>
<use href="#sq" transform="rotate(105.65) translate(630 0)"/>
<use href="#sq" transform="rotate(97.43) translate(910 0)"/>
<use href="#sq" transform="rotate(113.87) translate(700 0)"/>
<use href="#sq" transform="rotate(105.65) translate(770 0)"/>
<use href="#sq" transform="rotate(108.68) translate(840 0)"/>
<use href="#sq" transform="rotate(111.28) translate(910 0)"/>
<use href="#sq" transform="rotate(122.09) translate(770 0)"/>
<use href="#sq" transform="rotate(118.2) translate(910 0)"/>
<use href="#sq" transform="rotate(125.99) translate(840 0)"/>
<use href="#sq" transform="rotate(128.58) translate(910 0)"/>
<use href="#sq" transform="rotate(162.92) translate(420 0)"/>
<use href="#sq" transform="rotate(146.87) translate(630 0)"/>
<use href="#sq" transform="rotate(139.4) translate(770 0)"/>
<use href="#sq" transform="rotate(135.5) translate(910 0)"/>
<use href="#sq" transform="rotate(143.3) translate(840 0)"/>
<use href="#sq" transform="rotate(145.89) translate(910 0)"/>
<use href="#sq" transform="rotate(154.33) translate(700 0)"/>
<use href="#sq" transform="rotate(157.57) translate(770 0)"/>
<use href="#sq" transform="rotate(160.6) translate(840 0)"/>
<use href="#sq" transform="rotate(163.2) translate(910 0)"/>
<use href="#sq" transform="rotate(178.97) translate(490 0)"/>
<use href="#sq" transform="rotate(170.99) translate(840 0)"/>
<use href="#sq" transform="rotate(173.58) translate(910 0)"/>
<use href="#sq" transform="rotate(186.94) translate(560 0)"/>
<use href="#sq" transform="rotate(181.37) translate(840 0)"/>
<use href="#sq" transform="rotate(183.97) translate(910 0)"/>
<use href="#sq" transform="rotate(192.5) translate(630 0)"/>
<use href="#sq" transform="rotate(195.87) translate(700 0)"/>
<use href="#sq" transform="rotate(199.11) translate(770 0)"/>
<use href="#sq" transform="rotate(202.14) translate(840 0)"/>
<use href="#sq" transform="rotate(204.74) translate(910 0)"/>
</g>

<g id="leaves">
<g id="l-OsTALE2" transform="rotate(-84.3)"><circle class="os" cx="1155" r="16"/><text class="r">OsTALE2</text></g>
<g id="l-OsTALE9" transform="rotate(-80.84)"><circle class="os" cx="1155" r="16"/><text class="r">OsTALE9</text></g>
<g id="l-OsTALE8" transform="rotate(-77.38)"><circle class="os" cx="1155" r="16"/><text class="r">OsTALE8</text></g>
<g id="l-OsTALE16" transform="rotate(-73.92)"><circle class="os" cx="1155" r="16"/><text class="r">OsTALE16</text></g>
<g id="l-VvTALE17" transform="rotate(-70.45)"><circle class="vv" cx="1155" r="16"/><text class="r">VvTALE17</text></g>
<g id="l-PeTALE18" transform="rotate(-66.99)"><circle class="pe" cx="1155" r="16"/><text class="r">PeTALE18</text></g>
<g id="l-VvTALE2" transform="rotate(-63.53)"><circle class="vv" cx="1155" r="16"/><text class="r">VvTALE2</text></g>
<g id="l-PeTALE1" transform="rotate(-60.07)"><circle class="pe" cx="1155" r="16"/><text class="r">PeTALE1</text></g>
<g id="l-VvTALE9" transform="rotate(-56.61)"><circle class="vv" cx="1155" r="16"/><text class="r">VvTALE9</text></g>
<g id="l-PeTALE5" transform="rotate(-53.15)"><circle class="pe" cx="1155" r="16"/><text class="r">PeTALE5</text></g>
<g id="l-AtTALE8" transform="rotate(-49.68)"><circle class="at" cx="1155" r="16"/><text class="r">AtTALE8</text></g>
<g id="l-AtTALE5" transform="rotate(-46.22)"><circle class="at" cx="1155" r="16"/><text class="r">AtTALE5</text></g>
<g id="l-AtTALE4" transform="rotate(-42.76)"><circle class="at" cx="1155" r="16"/><text class="r">AtTALE4</text></g>
<g id="l-OsTALE5" transform="rotate(-39.3)"><circle class="os" cx="1155" r="16"/><text class="r">OsTALE5</text></g>
<g id="l-OsTALE4" transform="rotate(-35.84)"><circle class="os" cx="1155" r="16"/><text class="r">OsTALE4</text></g>
<g id="l-OsTALE15" transform="rotate(-32.38)"><circle class="os" cx="1155" r="16"/><text class="r">OsTALE15</text></g>
<g id="l-OsTALE14" transform="rotate(-28.92)"><circle class="os" cx="1155" r="16"/><text class="r">OsTALE14</text></g>
<g id="l-AtTALE6" transform="rotate(-25.45)"><circle class="at" cx="1155" r="16"/><text class="r">AtTALE6</text></g>
<g id="l-VvTALE1" transform="rotate(-21.99)"><circle class="vv" cx="1155" r="16"/><text class="r">VvTALE1</text></g>
<g id="l-VvTALE16" transform="rotate(-18.53)"><circle class="vv" cx="1155" r="16"/><text class="r">VvTALE16</text></g>
<g id="l-PeTALE10" transform="rotate(-15.07)"><circle class="pe" cx="1155" r="16"/><text class="r">PeTALE10</text></g>
<g id="l-OsTALE21" transform="rotate(-11.61)"><circle class="os" cx="1155" r="16"/><text class="r">OsTALE21</text></g>
<g id="l-AtTALE22" transform="rotate(-8.15)"><circle class="at" cx="1155" r="16"/><text class="r">AtTALE22</text></g>
<g id="l-VvTALE3" transform="rotate(-4.68)"><circle class="vv" cx="1155" r="16"/><text class="r">VvTALE3</text></g>
<g id="l-PeTALE7" transform="rotate(-1.22)"><circle class="pe" cx="1155" r="16"/><text class="r">PeTALE7</text></g>
<g id="l-PeTALE6" transform="rotate(2.24)"><circle class="pe" cx="1155" r="16"/><text class="r">PeTALE6</text></g>
<g id="l-OsTALE7" transform="rotate(5.7)"><circle class="os" cx="1155" r="16"/><text class="r">OsTALE7</text></g>
<g id="l-VvTALE15" transform="rotate(9.16)"><circle class="vv" cx="1155" r="16"/><text class="r">VvTALE15</text></g>
<g id="l-PeTALE21" transform="rotate(12.62)"><circle class="pe" cx="1155" r="16"/><text class="r">PeTALE21</text></g>
<g id="l-AtTALE18" transform="rotate(16.08)"><circle class="at" cx="1155" r="16"/><text class="r">AtTALE18</text></g>
<g id="l-OsTALE17" transform="rotate(19.55)"><circle class="os" cx="1155" r="16"/><text class="r">OsTALE17</text></g>
<g id="l-OsTALE1" transform="rotate(23.01)"><circle class="os" cx="1155" r="16"/><text class="r">OsTALE1</text></g>
<g id="l-AtTALE29" transform="rotate(26.47)"><circle class="at" cx="1155" r="16"/><text class="r">AtTALE29</text></g>
<g id="l-VvTALE10" transform="rotate(29.93)"><circle class="vv" cx="1155" r="16"/><text class="r">VvTALE10</text></g>
<g id="l-VvTALE18" transform="rotate(33.39)"><circle class="vv" cx="1155" r="16"/><text class="r">VvTALE18</text></g>
<g id="l-PeTALE3" transform="rotate(36.85)"><circle class="pe" cx="1155" r="16"/><text class="r">PeTALE3</text></g>
<g id="l-OsTALE23" transform="rotate(40.31)"><circle class="os" cx="1155" r="16"/><text class="r">OsTALE23</text></g>
<g id="l-OsTALE12" transform="rotate(43.78)"><circle class="os" cx="1155" r="16"/><text class="r">OsTALE12</text></g>
<g id="l-OsTALE20" transform="rotate(47.24)"><circle class="os" cx="1155" r="16"/><text class="r">OsTALE20</text></g>
<g id="l-AtTALE33" transform="rotate(50.7)"><circle class="at" cx="1155" r="16"/><text class="r">AtTALE33</text></g>
<g id="l-VvTALE12" transform="rotate(54.16)"><circle class="vv" cx="1155" r="16"/><text class="r">VvTALE12</text></g>
<g id="l-OsTALE13" transform="rotate(57.62)"><circle class="os" cx="1155" r="16"/><text class="r">OsTALE13</text></g>
<g id="l-VvTALE4" transform="rotate(61.08)"><circle class="vv" cx="1155" r="16"/><text class="r">VvTALE4</text></g>
<g id="l-VvTALE11" transform="rotate(64.55)"><circle class="vv" cx="1155" r="16"/><text class="r">VvTALE11</text></g>
<g id="l-AtTALE28" transform="rotate(68.01)"><circle class="at" cx="1155" r="16"/><text class="r">AtTALE28</text></g>
<g id="l-AtTALE27" transform="rotate(71.47)"><circle class="at" cx="1155" r="16"/><text class="r">AtTALE27</text></g>
<g id="l-AtTALE13" transform="rotate(74.93)"><circle class="at" cx="1155" r="16"/><text class="r">AtTALE13</text></g>
<g id="l-AtTALE15" transform="rotate(78.39)"><circle class="at" cx="1155" r="16"/><text class="r">AtTALE15</text></g>
<g id="l-AtTALE14" transform="rotate(81.85)"><circle class="at" cx="1155" r="16"/><text class="r">AtTALE14</text></g>
<g id="l-OsTALE24" transform="rotate(85.31)"><circle class="os" cx="1155" r="16"/><text class="r">OsTALE24</text></g>
<g id="l-OsTALE27" transform="rotate(88.78)"><circle class="os" cx="1155" r="16"/><text class="r">OsTALE27</text></g>
<g id="l-OsTALE26" transform="rotate(-87.76)"><circle class="os" cx="-1155" r="16"/><text class="l">OsTALE26</text></g>
<g id="l-AtTALE17" transform="rotate(-84.3)"><circle class="at" cx="-1155" r="16"/><text class="l">AtTALE17</text></g>
<g id="l-AtTALE16" transform="rotate(-80.84)"><circle class="at" cx="-1155" r="16"/><text class="l">AtTALE16</text></g>
<g id="l-VvTALE7" transform="rotate(-77.38)"><circle class="vv" cx="-1155" r="16"/><text class="l">VvTALE7</text></g>
<g id="l-VvTALE21" transform="rotate(-73.92)"><circle class="vv" cx="-1155" r="16"/><text class="l">VvTALE21</text></g>
<g id="l-PeTALE22" transform="rotate(-70.46)"><circle class="pe" cx="-1155" r="16"/><text class="l">PeTALE22</text></g>
<g id="l-PeTALE12" transform="rotate(-66.99)"><circle class="pe" cx="-1155" r="16"/><text class="l">PeTALE12</text></g>
<g id="l-PeTALE4" transform="rotate(-63.53)"><circle class="pe" cx="-1155" r="16"/><text class="l">PeTALE4</text></g>
<g id="l-PeTALE2" transform="rotate(-60.07)"><circle class="pe" cx="-1155" r="16"/><text class="l">PeTALE2</text></g>
<g id="l-AtTALE19" transform="rotate(-56.61)"><circle class="at" cx="-1155" r="16"/><text class="l">AtTALE19</text></g>
<g id="l-AtTALE21" transform="rotate(-53.15)"><circle class="at" cx="-1155" r="16"/><text class="l">AtTALE21</text></g>
<g id="l-AtTALE20" transform="rotate(-49.69)"><circle class="at" cx="-1155" r="16"/><text class="l">AtTALE20</text></g>
<g id="l-AtTALE10" transform="rotate(-46.23)"><circle class="at" cx="-1155" r="16"/><text class="l">AtTALE10</text></g>
<g id="l-AtTALE9" transform="rotate(-42.76)"><circle class="at" cx="-1155" r="16"/><text class="l">AtTALE9</text></g>
<g id="l-AtTALE1" transform="rotate(-39.3)"><circle class="at" cx="-1155" r="16"/><text class="l">AtTALE1</text></g>
<g id="l-AtTALE3" transform="rotate(-35.84)"><circle class="at" cx="-1155" r="16"/><text class="l">AtTALE3</text></g>
<g id="l-AtTALE2" transform="rotate(-32.38)"><circle class="at" cx="-1155" r="16"/><text class="l">AtTALE2</text></g>
<g id="l-AtTALE11" transform="rotate(-28.92)"><circle class="at" cx="-1155" r="16"/><text class="l">AtTALE11</text></g>
<g id="l-VvTALE5" transform="rotate(-25.46)"><circle class="vv" cx="-1155" r="16"/><text class="l">VvTALE5</text></g>
<g id="l-PeTALE17" transform="rotate(-22)"><circle class="pe" cx="-1155" r="16"/><text class="l">PeTALE17</text></g>
<g id="l-PeTALE9" transform="rotate(-18.53)"><circle class="pe" cx="-1155" r="16"/><text class="l">PeTALE9</text></g>
<g id="l-PeTALE8" transform="rotate(-15.07)"><circle class="pe" cx="-1155" r="16"/><text class="l">PeTALE8</text></g>
<g id="l-OsTALE10" transform="rotate(-11.61)"><circle class="os" cx="-1155" r="16"/><text class="l">OsTALE10</text></g>
<g id="l-OsTALE25" transform="rotate(-8.15)"><circle class="os" cx="-1155" r="16"/><text class="l">OsTALE25</text></g>
<g id="l-OsTALE6" transform="rotate(-4.69)"><circle class="os" cx="-1155" r="16"/><text class="l">OsTALE6</text></g>
<g id="l-AtTALE12" transform="rotate(-1.23)"><circle class="at" cx="-1155" r="16"/><text class="l">AtTALE12</text></g>
<g id="l-AtTALE26" transform="rotate(2.23)"><circle class="at" cx="-1155" r="16"/><text class="l">AtTALE26</text></g>
<g id="l-AtTALE25" transform="rotate(5.7)"><circle class="at" cx="-1155" r="16"/><text class="l">AtTALE25</text></g>
<g id="l-PeTALE16" transform="rotate(9.16)"><circle class="pe" cx="-1155" r="16"/><text class="l">PeTALE16</text></g>
<g id="l-VvTALE6" transform="rotate(12.62)"><circle class="vv" cx="-1155" r="16"/><text class="l">VvTALE6</text></g>
<g id="l-VvTALE14" transform="rotate(16.08)"><circle class="vv" cx="-1155" r="16"/><text class="l">VvTALE14</text></g>
<g id="l-PeTALE23" transform="rotate(19.54)"><circle class="pe" cx="-1155" r="16"/><text class="l">PeTALE23</text></g>
<g id="l-PeTALE14" transform="rotate(23)"><circle class="pe" cx="-1155" r="16"/><text class="l">PeTALE14</text></g>
<g id="l-PeTALE13" transform="rotate(26.47)"><circle class="pe" cx="-1155" r="16"/><text class="l">PeTALE13</text></g>
<g id="l-OsTALE19" transform="rotate(29.93)"><circle class="os" cx="-1155" r="16"/><text class="l">OsTALE19</text></g>
<g id="l-OsTALE3" transform="rotate(33.39)"><circle class="os" cx="-1155" r="16"/><text class="l">OsTALE3</text></g>
<g id="l-AtTALE24" transform="rotate(36.85)"><circle class="at" cx="-1155" r="16"/><text class="l">AtTALE24</text></g>
<g id="l-VvTALE19" transform="rotate(40.31)"><circle class="vv" cx="-1155" r="16"/><text class="l">VvTALE19</text></g>
<g id="l-PeTALE19" transform="rotate(43.77)"><circle class="pe" cx="-1155" r="16"/><text class="l">PeTALE19</text></g>
<g id="l-PeTALE15" transform="rotate(47.24)"><circle class="pe" cx="-1155" r="16"/><text class="l">PeTALE15</text></g>
<g id="l-OsTALE11" transform="rotate(50.7)"><circle class="os" cx="-1155" r="16"/><text class="l">OsTALE11</text></g>
<g id="l-AtTALE7" transform="rotate(54.16)"><circle class="at" cx="-1155" r="16"/><text class="l">AtTALE7</text></g>
<g id="l-VvTALE13" transform="rotate(57.62)"><circle class="vv" cx="-1155" r="16"/><text class="l">VvTALE13</text></g>
<g id="l-PeTALE20" transform="rotate(61.08)"><circle class="pe" cx="-1155" r="16"/><text class="l">PeTALE20</text></g>
<g id="l-AtTALE23" transform="rotate(64.54)"><circle class="at" cx="-1155" r="16"/><text class="l">AtTALE23</text></g>
<g id="l-VvTALE20" transform="rotate(68)"><circle class="vv" cx="-1155" r="16"/><text class="l">VvTALE20</text></g>
<g id="l-VvTALE8" transform="rotate(71.47)"><circle class="vv" cx="-1155" r="16"/><text class="l">VvTALE8</text></g>
<g id="l-PeTALE11" transform="rotate(74.93)"><circle class="pe" cx="-1155" r="16"/><text class="l">PeTALE11</text></g>
<g id="l-OsTALE22" transform="rotate(78.39)"><circle class="os" cx="-1155" r="16"/><text class="l">OsTALE22</text></g>
<g id="l-OsTALE18" transform="rotate(81.85)"><circle class="os" cx="-1155" r="16"/><text class="l">OsTALE18</text></g>
<g id="l-AtTALE30" transform="rotate(85.31)"><circle class="at" cx="-1155" r="16"/><text class="l">AtTALE30</text></g>
<g id="l-AtTALE32" transform="rotate(88.77)"><circle class="at" cx="-1155" r="16"/><text class="l">AtTALE32</text></g>
<g id="l-AtTALE31" transform="rotate(-87.76)"><circle class="at" cx="1155" r="16"/><text class="r">AtTALE31</text></g>
</g>
</g>

<g id="legend">
<text x="2805" y="111" text-anchor="middle" font-weight="bold" font-size="50" textLength="172" lengthAdjust="spacingAndGlyphs">Species</text>
<path d="M2602 146H3024" stroke="#333" stroke-width="2.5"/>
<circle class="vv" cx="2610" cy="195" r="16"/>
<text class="sp" x="2649" y="213" textLength="270" lengthAdjust="spacingAndGlyphs">Vitis vinifera</text>
<circle class="pe" cx="2610" cy="274" r="16"/>
<text class="sp" x="2647" y="290" textLength="370" lengthAdjust="spacingAndGlyphs">Passiflora edulis</text>
<circle class="os" cx="2610" cy="352" r="16"/>
<text class="sp" x="2647" y="368" textLength="275" lengthAdjust="spacingAndGlyphs">Oryza sativa</text>
<circle class="at" cx="2610" cy="430" r="16"/>
<text class="sp" x="2645" y="447" textLength="458" lengthAdjust="spacingAndGlyphs">Arabidopsis thaliana</text>
<text x="2643" y="543" font-weight="bold" font-size="51" textLength="336" lengthAdjust="spacingAndGlyphs">Colored ranges</text>
<path d="M2598 580H3022" stroke="#333" stroke-width="2.5"/>
<g stroke="#555" stroke-width="1.5">
<rect x="2606" y="601" width="88" height="86" fill="#b3e2f6"/>
<rect x="2606" y="711" width="88" height="86" fill="#ffc8dd"/>
<rect x="2606" y="821" width="88" height="86" fill="#8fc8eb"/>
<rect x="2606" y="931" width="88" height="86" fill="#30dd88"/>
<rect x="2606" y="1041" width="88" height="86" fill="#d2c7f1"/>
<rect x="2606" y="1151" width="88" height="86" fill="#00c050"/>
<rect x="2606" y="1261" width="88" height="86" fill="#ff9c9a"/>
<rect x="2606" y="1371" width="88" height="86" fill="#f8e4a2"/>
<rect x="2606" y="1481" width="88" height="86" fill="#cce600"/>
</g>
<text class="lg" x="2766" y="661">BELL-I</text>
<text class="lg" x="2766" y="771">BELL-II</text>
<text class="lg" x="2766" y="881">BELL-III</text>
<text class="lg" x="2766" y="991">BELL-IV</text>
<text class="lg" x="2766" y="1101">BELL-V</text>
<text class="lg" x="2766" y="1211">KNOX-I</text>
<text class="lg" x="2766" y="1321">KNOX-II</text>
<text class="lg" x="2766" y="1431">KNOX-III</text>
<text class="lg" x="2766" y="1541">KNOX-<tspan font-family="'DejaVu Serif','Liberation Serif','Noto Sans CJK SC',serif">Ⅳ</tspan></text>
</g>
</svg>
